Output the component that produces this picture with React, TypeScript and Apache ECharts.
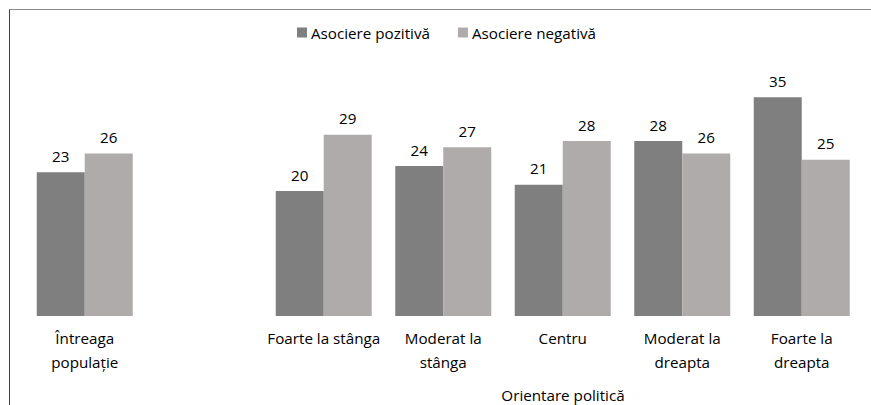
import React, { useEffect, useRef } from "react";
import * as echarts from "echarts";

const categories = [
  "Întreaga\npopulație",
  "",
  "Foarte la stânga",
  "Moderat la\nstânga",
  "Centru",
  "Moderat la\ndreapta",
  "Foarte la\ndreapta",
];
const seriesNames = ["Asociere pozitivă", "Asociere negativă"];
const positive: (number | null)[] = [23, null, 20, 24, 21, 28, 35];
const negative: (number | null)[] = [26, null, 29, 27, 28, 26, 25];
const axisTitle = "Orientare politică";

const FONT = "'Open Sans', sans-serif";
const FS = 15.2;

export default function App() {
  const ref = useRef<HTMLDivElement>(null);
  useEffect(() => {
    if (!ref.current) return;
    const chart = echarts.init(ref.current, null, { renderer: "svg" });
    const labelStyle = {
      show: true,
      position: "top" as const,
      distance: 9,
      color: "#000",
      fontFamily: FONT,
      fontSize: FS,
    };
    chart.setOption({
      animation: false,
      textStyle: { fontFamily: FONT },
      legend: {
        top: 20,
        left: 292,
        itemWidth: 10,
        itemHeight: 10,
        itemGap: 28,
        icon: "rect",
        textStyle: { fontFamily: FONT, fontSize: FS, color: "#000", padding: [0, 0, 0, -1] },
        data: seriesNames,
      },
      grid: { left: 25, right: 9.5, top: 66, bottom: 89, containLabel: false },
      xAxis: {
        type: "category",
        data: categories,
        axisLine: { show: false },
        axisTick: { show: false },
        axisLabel: {
          interval: 0,
          margin: 10,
          color: "#000",
          fontFamily: FONT,
          fontSize: FS,
          lineHeight: 24,
        },
      },
      yAxis: {
        type: "value",
        min: 0,
        max: 40,
        show: false,
        splitLine: { show: false },
      },
      series: [
        {
          name: seriesNames[0],
          type: "bar",
          data: positive,
          barWidth: 48,
          barGap: "0%",
          itemStyle: { color: "#7F7F7F" },
          label: labelStyle,
        },
        {
          name: seriesNames[1],
          type: "bar",
          data: negative,
          barWidth: 48,
          barGap: "0%",
          itemStyle: { color: "#AFABAB" },
          label: labelStyle,
        },
      ],
      graphic: [
        {
          type: "line",
          shape: { x1: 9.5, y1: 9.5, x2: 871, y2: 9.5 },
          style: { stroke: "#8a8a8a", lineWidth: 1 },
        },
        {
          type: "line",
          shape: { x1: 9.5, y1: 9.5, x2: 9.5, y2: 405 },
          style: { stroke: "#404040", lineWidth: 1 },
        },
        {
          type: "text",
          x: 563,
          y: 395,
          style: {
            text: axisTitle,
            fill: "#000",
            font: `${FS}px ${FONT}`,
            align: "center",
            verticalAlign: "middle",
          },
        },
      ],
    });
    return () => chart.dispose();
  }, []);
  return (
    <div
      ref={ref}
      style={{ position: "absolute", left: 0, top: 0, width: 871, height: 405, background: "#fff" }}
    />
  );
}
